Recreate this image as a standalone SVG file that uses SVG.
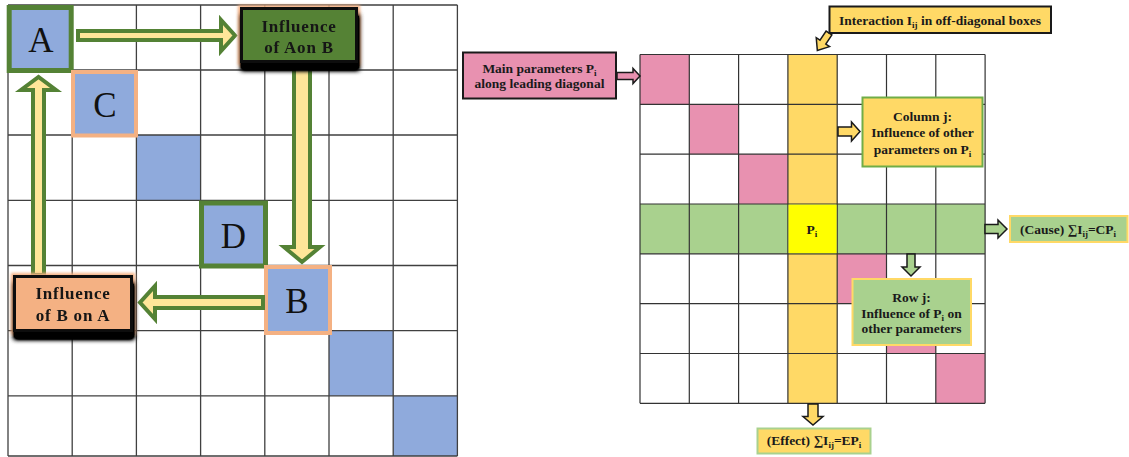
<svg xmlns="http://www.w3.org/2000/svg" width="1129" height="457" viewBox="0 0 1129 457">
<defs>
<style>
.gl{stroke:#404040;stroke-width:1.3;fill:none}
.gr{stroke:#333;stroke-width:1.2;fill:none}
.blue{fill:#8faadc}
.pink{fill:#e891b0}
.yel{fill:#ffd966}
.grn{fill:#a9d18e}
.let{font-family:"Liberation Serif","Times New Roman",serif;font-size:35px;fill:#111;text-anchor:middle}
.inf{font-family:"Liberation Serif","Times New Roman",serif;font-size:17px;font-weight:bold;fill:#151515;text-anchor:middle;letter-spacing:0.8px}
.lbl{font-family:"Liberation Serif","Times New Roman",serif;font-size:13.5px;font-weight:bold;fill:#1a1a1a;text-anchor:middle}
.sub{font-size:9px}
.barrow{fill:#ffe699;stroke:#548235;stroke-width:4;stroke-linejoin:miter}
.sarrow{stroke:#1a1a1a;stroke-width:1.5;stroke-linejoin:miter}
</style>
<filter id="shadow" x="-20%" y="-30%" width="150%" height="180%">
<feOffset in="SourceAlpha" dx="1" dy="7" result="o0"/>
<feGaussianBlur in="o0" stdDeviation="2.5" result="o"/>
<feComponentTransfer in="o" result="sh"><feFuncA type="linear" slope="2.2"/></feComponentTransfer>
<feMorphology in="SourceAlpha" operator="dilate" radius="2" result="d"/>
<feGaussianBlur in="d" stdDeviation="1.5" result="db"/>
<feFlood flood-color="#f4b183"/>
<feComposite in2="db" operator="in" result="glow"/>
<feMerge><feMergeNode in="glow"/><feMergeNode in="sh"/><feMergeNode in="SourceGraphic"/></feMerge>
</filter>
</defs>
<rect width="1129" height="457" fill="#fff"/>

<!-- LEFT GRID -->
<g id="left-grid">
<rect class="blue" x="136.4" y="135" width="64.2" height="65.3"/>
<rect class="blue" x="329" y="330.7" width="64.2" height="65.1"/>
<rect class="blue" x="393.2" y="395.8" width="64.2" height="60.2"/>
<path class="gl" d="M8 5V456M72.2 5V456M136.4 5V456M200.6 5V456M264.8 5V456M329 5V456M393.2 5V456M457.4 5V456M8 5H457.4M8 70H457.4M8 135H457.4M8 200.3H457.4M8 265.5H457.4M8 330.7H457.4M8 395.8H457.4M8 456H457.4"/>
</g>

<g id="node-A">
<rect x="9.2" y="7.5" width="62" height="63" fill="#8faadc" stroke="#548235" stroke-width="5"/>
<text class="let" x="41" y="52">A</text>
</g>
<g id="node-C">
<rect x="73" y="72" width="63" height="63.5" fill="#8faadc" stroke="#f4b183" stroke-width="4"/>
<text class="let" x="105" y="117">C</text>
</g>
<g id="node-D">
<rect x="201.5" y="203" width="64" height="63" fill="#8faadc" stroke="#548235" stroke-width="5"/>
<text class="let" x="233.5" y="248">D</text>
</g>
<g id="node-B">
<rect x="266" y="267" width="64" height="66" fill="#8faadc" stroke="#f4b183" stroke-width="4"/>
<text class="let" x="297" y="312.5">B</text>
</g>

<!-- RIGHT GRID -->
<g id="right-grid">
<rect class="pink" x="640" y="54.5" width="49.3" height="49.8"/>
<rect class="pink" x="689.3" y="104.3" width="49.3" height="49.9"/>
<rect class="pink" x="738.6" y="154.2" width="49.3" height="49.8"/>
<rect class="pink" x="837.2" y="253.8" width="49.3" height="49.9"/>
<rect class="pink" x="886.5" y="303.7" width="49.3" height="49.8"/>
<rect class="pink" x="935.8" y="353.5" width="49.3" height="49.8"/>
<rect class="yel" x="787.9" y="54.5" width="49.3" height="348.8"/>
<rect class="grn" x="640" y="204" width="345.1" height="49.8"/>
<path class="gr" d="M640 54.5V403.3M689.3 54.5V403.3M738.6 54.5V403.3M787.9 54.5V403.3M837.2 54.5V403.3M886.5 54.5V403.3M935.8 54.5V403.3M985.1 54.5V403.3M640 54.5H985.1M640 104.3H985.1M640 154.2H985.1M640 204H985.1M640 253.8H985.1M640 303.7H985.1M640 353.5H985.1M640 403.3H985.1"/>
</g>
<g id="node-Pi">
<rect x="788.5" y="204.6" width="48.1" height="48.6" fill="#ffff00"/>
<text class="lbl" x="812" y="234">P<tspan class="sub" dy="3">i</tspan></text>
</g>

<!-- CONNECTORS -->
<g id="connectors">
<polygon class="barrow" points="78,31 221,31 221,20 235,35.5 221,51 221,40 78,40"/>
<polygon class="barrow" points="294,64 310,64 310,247 320,247 302,262 284,247 294,247"/>
<polygon class="barrow" points="263,297 155,297 155,286 140,302.5 155,319 155,308 263,308"/>
<polygon class="barrow" points="33,275 33,90 21,90 38.5,77 56,90 44,90 44,275"/>

<polygon class="sarrow pink" points="617,72.5 633,72.5 633,68.5 640,76 633,83.5 633,79.5 617,79.5"/>
<polygon class="sarrow yel" transform="translate(829,33) rotate(123.7)" points="0,-3.5 11,-3.5 11,-8 21,0 11,8 11,3.5 0,3.5"/>
<polygon class="sarrow yel" points="838,127 851.5,127 851.5,122 860,131.5 851.5,141 851.5,136 838,136"/>
<polygon class="sarrow grn" points="985,224.5 998,224.5 998,220 1007,229 998,238 998,233.5 985,233.5"/>
<polygon class="sarrow grn" points="907,254 915,254 915,267 920,267 911,276 902,267 907,267"/>
<polygon class="sarrow yel" points="808,404 818,404 818,416.5 823,416.5 813,425 803,416.5 808,416.5"/>
</g>

<!-- LEFT LABEL BOXES -->
<g id="node-infAB" filter="url(#shadow)">
<rect x="241.5" y="8.5" width="115" height="53" fill="#548235" stroke="#111" stroke-width="3"/>
<text class="inf" x="299" y="32">Influence</text>
<text class="inf" x="299" y="53">of Aon B</text>
</g>
<g id="node-infBA" filter="url(#shadow)">
<rect x="14.5" y="276.5" width="117" height="54" fill="#f4b183" stroke="#111" stroke-width="3"/>
<text class="inf" x="73" y="299">Influence</text>
<text class="inf" x="73" y="321">of B on A</text>
</g>

<!-- RIGHT LABEL BOXES -->
<g id="node-main">
<rect x="463" y="52.5" width="153" height="46" fill="#e891b0" stroke="#1a1a1a" stroke-width="2"/>
<text class="lbl" x="539.5" y="72.5">Main parameters P<tspan class="sub" dy="3">i</tspan></text>
<text class="lbl" x="539.5" y="88">along leading diagonal</text>
</g>
<g id="node-interaction">
<rect x="829.5" y="6.5" width="221.5" height="26.5" fill="#ffd966" stroke="#1a1a1a" stroke-width="2"/>
<text class="lbl" x="940" y="25">Interaction I<tspan class="sub" dy="3">ij</tspan><tspan dy="-3"> in off-diagonal boxes</tspan></text>
</g>
<g id="node-column">
<rect x="862.5" y="97.5" width="120" height="69" fill="#ffd966" stroke="#70ad47" stroke-width="2"/>
<text class="lbl" x="922.5" y="121">Column j:</text>
<text class="lbl" x="922.5" y="137">Influence of other</text>
<text class="lbl" x="922.5" y="153.5">parameters on P<tspan class="sub" dy="3">i</tspan></text>
</g>
<g id="node-cause">
<rect x="1010" y="216" width="117.5" height="26" fill="#a9d18e" stroke="#ffd966" stroke-width="2"/>
<text class="lbl" x="1068" y="234">(Cause) ∑I<tspan class="sub" dy="3">ij</tspan><tspan dy="-3">=CP</tspan><tspan class="sub" dy="3">i</tspan></text>
</g>
<g id="node-row">
<rect x="852.5" y="279" width="118.5" height="66" fill="#a9d18e" stroke="#ffd966" stroke-width="2"/>
<text class="lbl" x="911.5" y="302">Row j:</text>
<text class="lbl" x="911.5" y="317.5">Influence of P<tspan class="sub" dy="3">i</tspan><tspan dy="-3"> on</tspan></text>
<text class="lbl" x="911.5" y="333">other parameters</text>
</g>
<g id="node-effect">
<rect x="757.5" y="428.5" width="113" height="25" fill="#ffd966" stroke="#a9d18e" stroke-width="2"/>
<text class="lbl" x="814" y="445">(Effect) ∑I<tspan class="sub" dy="3">ij</tspan><tspan dy="-3">=EP</tspan><tspan class="sub" dy="3">i</tspan></text>
</g>
</svg>
